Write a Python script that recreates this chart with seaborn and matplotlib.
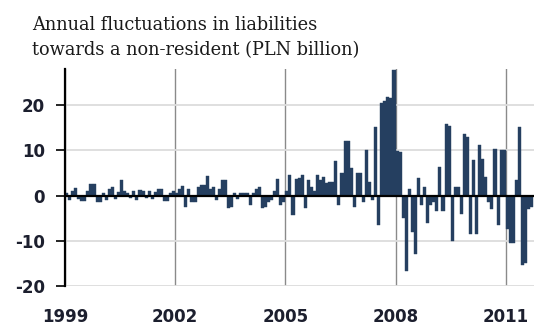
import numpy as np
import pandas as pd
import matplotlib
matplotlib.use("Agg")
import matplotlib.pyplot as plt
import seaborn as sns

# annual change in liabilities towards non-residents, monthly, PLN billion
y1999 = [0.5, -1.0, 1.0, 1.6, -0.8, -1.3, -1.2, 1.0, 2.6, 2.5, -1.5, -1.4]
y2000 = [0.5, -1.0, 1.5, 2.0, -0.8, 0.8, 3.4, 1.0, 0.5, -0.5, 1.0, -1.0]
y2001 = [1.2, 1.0, -0.5, 1.0, -0.8, 0.8, 1.5, 1.5, -1.3, -1.2, 0.5, 1.0]
y2002 = [0.5, 1.5, 2.1, -2.6, 1.5, -1.5, -1.5, 2.0, 2.3, 2.3, 4.4, 1.5]
y2003 = [2.0, -1.0, 1.5, 3.5, 3.5, -2.8, -2.5, 0.5, -0.8, 0.5, 0.5, 0.5]
y2004 = [-2.0, 0.5, 1.5, 2.0, -2.8, -2.5, -1.5, -1.0, 1.0, 3.7, -2.0, -1.5]
y2005 = [1.0, 4.6, -4.2, 3.6, 3.8, 4.5, -2.8, 3.5, 2.0, 1.0, 4.5, 3.5]
y2006 = [4.0, 2.8, 3.0, 3.0, 7.6, -2.0, 5.0, 12.0, 12.0, 6.0, -2.5, 5.0]
y2007 = [5.0, -1.5, 10.1, 3.0, -1.0, 15.2, -6.5, 20.4, 21.0, 21.7, 21.5, 27.8]
y2008 = [9.8, 9.6, -5.0, -16.7, 1.5, -8.0, -13.0, 3.9, -2.0, 2.0, -6.0, -2.0]
y2009 = [-1.5, -3.5, 6.3, -3.5, 15.9, 15.5, -10.0, 2.0, 1.8, -4.0, 13.7, 13.0]
y2010 = [-8.5, 7.8, -8.5, 11.1, 8.0, 4.0, -1.5, -3.0, 10.2, -6.5, 10.0, 10.0]
y2011 = [-7.5, -10.5, -10.5, 3.5, 15.1, -15.4, -15.0, -3.0, -2.5]

values = (y1999 + y2000 + y2001 + y2002 + y2003 + y2004 + y2005 + y2006
          + y2007 + y2008 + y2009 + y2010 + y2011)
months = pd.date_range("1999-01-01", periods=len(values), freq="MS")
df = pd.DataFrame({"t": months.year + (months.month - 0.5) / 12.0,
                   "val": values})

year_ticks = [1999, 2002, 2005, 2008, 2011]
y_ticks = [-20, -10, 0, 10, 20]

plt.rcParams["axes.unicode_minus"] = False
BAR = "#253f60"

fig = plt.figure(figsize=(5.34, 3.25), dpi=100)
ax = fig.add_axes([0.1217, 0.12, 0.8783, 0.6677])

sns.barplot(data=df, x="t", y="val", native_scale=True, width=1.0,
            color=BAR, saturation=1, edgecolor=BAR, linewidth=0.3, ax=ax)

ax.set_xlim(1999, 2011.77)
ax.set_ylim(-20, 28)
ax.set_xticks(year_ticks)
ax.set_xticklabels([str(y) for y in year_ticks])
ax.set_yticks(y_ticks)
ax.set_yticklabels([str(v) for v in y_ticks])
ax.set_xlabel("")
ax.set_ylabel("")

ax.set_axisbelow(True)
ax.yaxis.grid(True, color="#dcdcdc", lw=1.3)
ax.xaxis.grid(True, color="#8a8a8a", lw=1.0)
ax.axhline(0, color="black", lw=1.6, zorder=4)

for s in ["top", "right", "bottom"]:
    ax.spines[s].set_visible(False)
ax.spines["left"].set_color("black")
ax.spines["left"].set_linewidth(1.6)
ax.spines["left"].set_zorder(5)

ax.tick_params(axis="y", length=6.5, width=1.2, color="black", pad=8,
               labelsize=12, labelcolor="#1c1f2e")
ax.tick_params(axis="x", length=0, pad=16, labelsize=12, labelcolor="#1c1f2e")
for lab in ax.get_xticklabels() + ax.get_yticklabels():
    lab.set_fontweight("bold")

fig.text(0.06, 1 - 30 / 325, "Annual fluctuations in liabilities",
         family="DejaVu Serif", fontsize=12.8, va="baseline", color="#1a1a1a")
fig.text(0.06, 1 - 55 / 325, "towards a non-resident (PLN billion)",
         family="DejaVu Serif", fontsize=12.8, va="baseline", color="#1a1a1a")

fig.savefig("out.png", dpi=100)
